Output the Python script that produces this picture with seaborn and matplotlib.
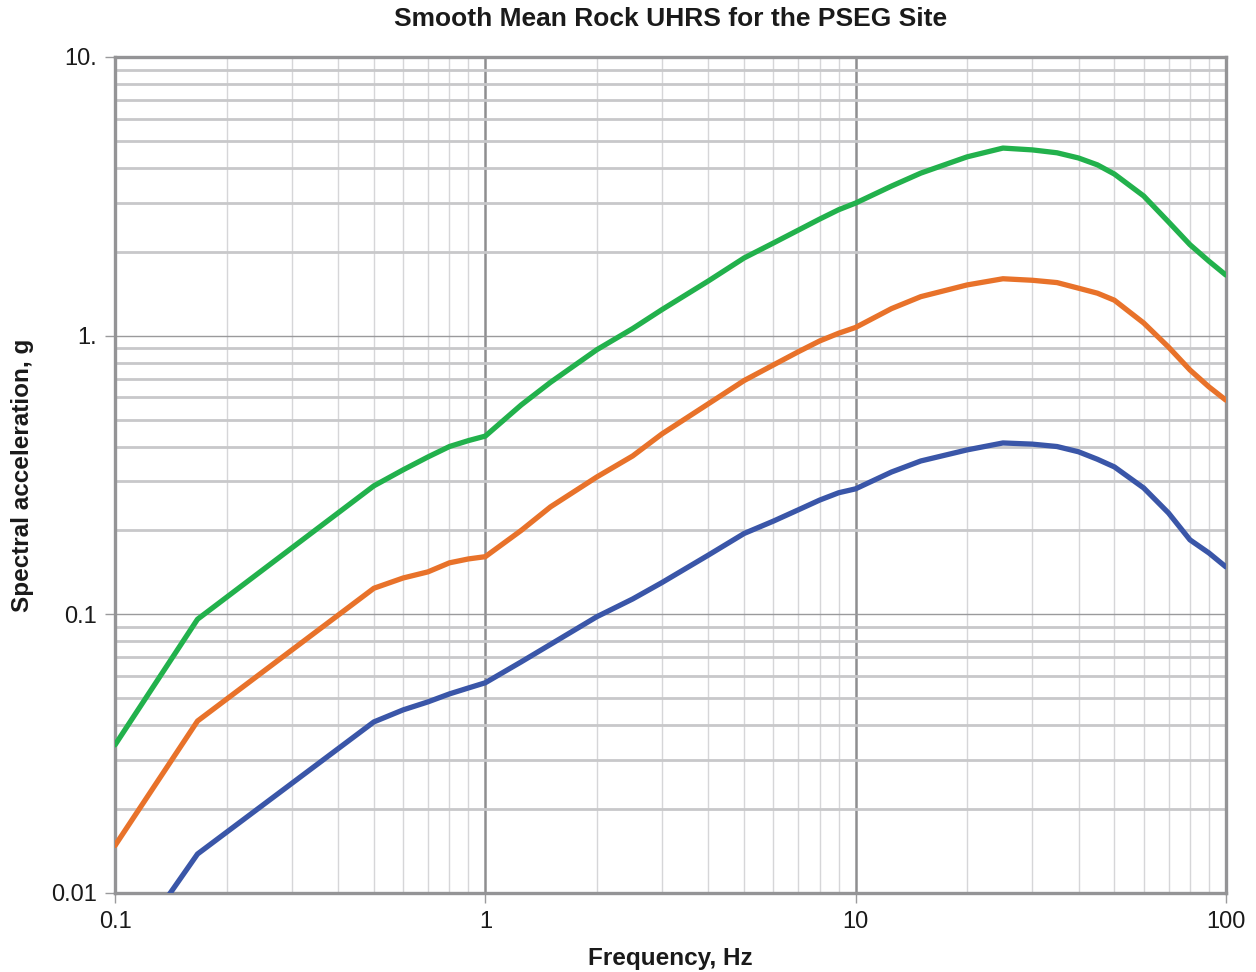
import numpy as np
import pandas as pd
import matplotlib
matplotlib.use("Agg")
import matplotlib.pyplot as plt
import matplotlib.ticker as mticker
import seaborn as sns

freq = [0.1, 0.167, 0.5, 0.6, 0.7, 0.8, 0.9, 1.0, 1.25, 1.5, 2.0, 2.5, 3.0, 4.0, 5.0,
        6.0, 7.0, 8.0, 9.0, 10.0, 12.5, 15.0, 20.0, 25.0, 30.0, 35.0, 40.0, 45.0,
        50.0, 60.0, 70.0, 80.0, 90.0, 100.0]

green = [0.034, 0.096, 0.289, 0.33, 0.367, 0.40, 0.42, 0.436, 0.564, 0.68, 0.89, 1.06,
         1.24, 1.57, 1.90, 2.15, 2.39, 2.62, 2.83, 2.99, 3.44, 3.83, 4.38, 4.71, 4.64,
         4.53, 4.34, 4.10, 3.80, 3.17, 2.56, 2.12, 1.85, 1.65]

orange = [0.0148, 0.0414, 0.124, 0.135, 0.142, 0.153, 0.158, 0.161, 0.20, 0.243, 0.311,
          0.37, 0.444, 0.569, 0.69, 0.785, 0.875, 0.957, 1.02, 1.07, 1.25, 1.38, 1.52,
          1.60, 1.58, 1.55, 1.48, 1.42, 1.34, 1.11, 0.91, 0.753, 0.655, 0.587]

blue = [0.0052, 0.0138, 0.0411, 0.0454, 0.0485, 0.0518, 0.0544, 0.0568, 0.0675, 0.078,
        0.098, 0.1135, 0.130, 0.163, 0.195, 0.216, 0.237, 0.257, 0.273, 0.282, 0.324,
        0.355, 0.389, 0.412, 0.408, 0.40, 0.383, 0.36, 0.338, 0.284, 0.231, 0.185,
        0.166, 0.148]

series_names = ["Green", "Orange", "Blue"]
colors = ["#22B14C", "#E8722A", "#3A56A8"]

x_ticks = [0.1, 1, 10, 100]
x_ticklabels = ["0.1", "1", "10", "100"]
y_ticks = [0.01, 0.1, 1, 10]
y_ticklabels = ["0.01", "0.1", "1.", "10."]

df = pd.concat([
    pd.DataFrame({"Frequency": freq, "SA": vals, "series": name})
    for name, vals in zip(series_names, [green, orange, blue])
], ignore_index=True)

sns.set_theme(style="white")
plt.rcParams["font.family"] = ["Liberation Sans", "DejaVu Sans"]

fig = plt.figure(figsize=(12.56, 9.72), dpi=100)
ax = fig.add_axes([0.0916, 0.0813, 0.976 - 0.0916, 0.9414 - 0.0813])

sns.lineplot(data=df, x="Frequency", y="SA", hue="series", palette=colors,
             hue_order=series_names, estimator=None, sort=False, linewidth=3.8,
             legend=False, ax=ax, zorder=5)

ax.set_xscale("log")
ax.set_yscale("log")
ax.set_xlim(0.1, 100)
ax.set_ylim(0.01, 10)

ax.set_xticks(x_ticks)
ax.set_xticklabels(x_ticklabels)
ax.set_yticks(y_ticks)
ax.set_yticklabels(y_ticklabels)
ax.xaxis.set_minor_locator(mticker.LogLocator(base=10, subs=np.arange(2, 10), numticks=20))
ax.yaxis.set_minor_locator(mticker.LogLocator(base=10, subs=np.arange(2, 10), numticks=20))
ax.xaxis.set_minor_formatter(mticker.NullFormatter())
ax.yaxis.set_minor_formatter(mticker.NullFormatter())

ax.grid(False)
ax.grid(True, which="minor", axis="y", color="#C8C8CA", linewidth=2.0, zorder=1)
ax.grid(True, which="major", axis="y", color="#9A9A9C", linewidth=1.0, zorder=2)
ax.grid(True, which="minor", axis="x", color="#D6D6D8", linewidth=1.0, zorder=1)
ax.grid(True, which="major", axis="x", color="#8E8E90", linewidth=1.8, zorder=2)
ax.set_axisbelow(True)

for sp in ax.spines.values():
    sp.set_color("#949496")
    sp.set_linewidth(2.4)
    sp.set_visible(True)

ax.tick_params(which="major", direction="out", length=7, width=1.0, color="#9A9A9C",
               labelsize=17, labelcolor="#1A1A1A", pad=6)
ax.tick_params(which="minor", length=0)
ax.tick_params(axis="x", which="major", bottom=True)
ax.tick_params(axis="y", which="major", left=True)

ax.set_xlabel("Frequency, Hz", fontsize=17.5, fontweight="bold", color="#1A1A1A", labelpad=10)
ax.set_ylabel("Spectral acceleration, g", fontsize=17.5, fontweight="bold", color="#1A1A1A", labelpad=12)
ax.set_title("Smooth Mean Rock UHRS for the PSEG Site", fontsize=19, fontweight="bold",
             color="#1A1A1A", pad=22)

fig.savefig("out.png", dpi=100)
